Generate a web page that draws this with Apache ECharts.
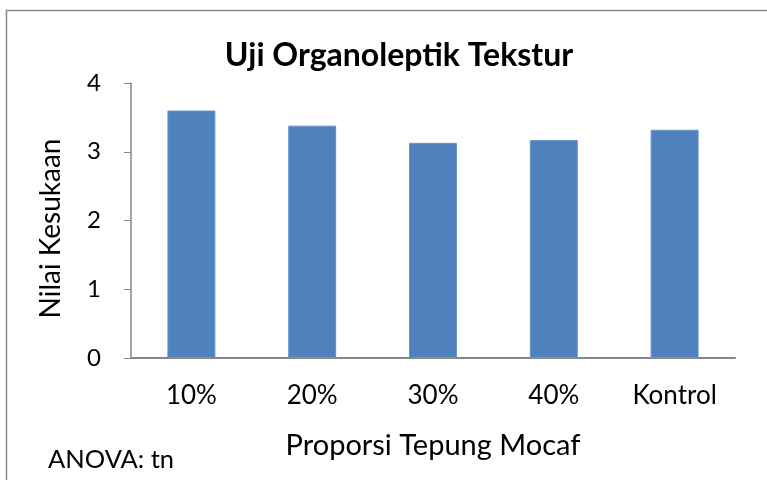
<!DOCTYPE html>
<html>
<head>
<meta charset="utf-8">
<script src="https://cdn.jsdelivr.net/npm/echarts@6/dist/echarts.min.js"></script>
<style>
  html, body { margin: 0; padding: 0; background: #fff; }
  #main { width: 767px; height: 480px; }
</style>
</head>
<body>
<div id="main"></div>
<script>
var categories = ['10%', '20%', '30%', '40%', 'Kontrol'];
var values = [3.6, 3.38, 3.13, 3.17, 3.32];
var yTicks = [0, 1, 2, 3, 4];

var font = 'Lato, "Open Sans", sans-serif';
var chart = echarts.init(document.getElementById('main'));
chart.setOption({
  animation: false,
  title: {
    text: 'Uji Organoleptik Tekstur',
    left: 394,
    top: 35,
    textAlign: 'center',
    textStyle: { fontFamily: font, fontSize: 32, fontWeight: 'bold', color: '#000' }
  },
  graphic: [
    {
      type: 'rect',
      shape: { x: 6.5, y: 10.5, width: 800, height: 500 },
      style: { fill: 'none', stroke: '#8a8a8a', lineWidth: 1.5 }
    },
    {
      type: 'text',
      left: 48,
      top: 447,
      style: { text: 'ANOVA: tn', font: '25.5px ' + font, fill: '#000' }
    }
  ],
  grid: { left: 131, top: 83, right: 32, bottom: 122 },
  xAxis: {
    type: 'category',
    data: categories,
    name: 'Proporsi Tepung Mocaf',
    nameLocation: 'middle',
    nameGap: 73,
    nameTextStyle: { fontFamily: font, fontSize: 29, color: '#000' },
    axisLine: { lineStyle: { color: '#868686', width: 2 } },
    axisTick: { show: false },
    axisLabel: { fontFamily: font, fontSize: 26, color: '#000', margin: 25 }
  },
  yAxis: {
    type: 'value',
    min: yTicks[0],
    max: yTicks[yTicks.length - 1],
    interval: 1,
    name: 'Nilai Kesukaan',
    nameLocation: 'middle',
    nameGap: 66,
    nameTextStyle: { fontFamily: font, fontSize: 28, color: '#000', padding: [0, 16, 0, 0] },
    axisLine: { show: true, lineStyle: { color: '#868686', width: 1.5 } },
    axisTick: { show: true, length: 7, lineStyle: { color: '#868686' } },
    splitLine: { show: false },
    axisLabel: { fontFamily: font, fontSize: 24, color: '#000', margin: 30 }
  },
  series: [{
    type: 'bar',
    data: values,
    barWidth: 48,
    itemStyle: { color: '#4F81BD', borderColor: '#6a96cc', borderWidth: 1 }
  }]
});
</script>
</body>
</html>
